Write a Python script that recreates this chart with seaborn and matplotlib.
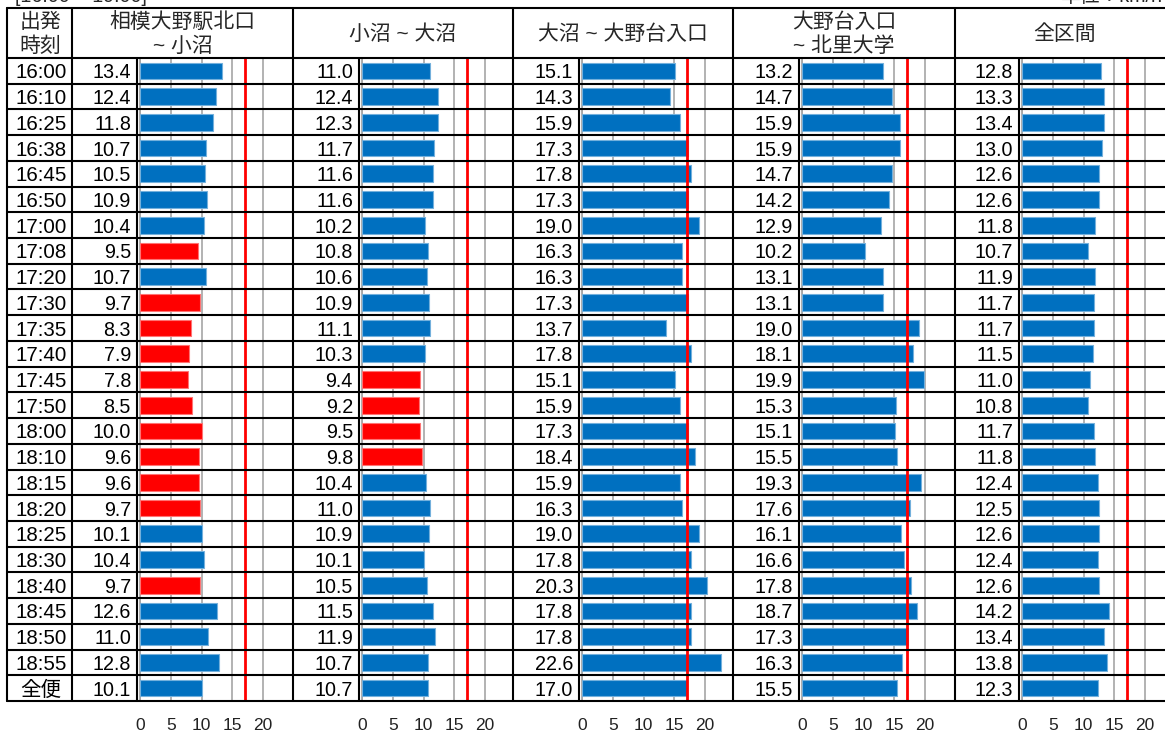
import matplotlib
matplotlib.use("Agg")
import matplotlib.pyplot as plt
import matplotlib.transforms as mtransforms
import matplotlib.colors as mcolors
import numpy as np
import pandas as pd
import seaborn as sns

# ---- data -------------------------------------------------------------
departures = ["16:00", "16:10", "16:25", "16:38", "16:45", "16:50", "17:00",
              "17:08", "17:20", "17:30", "17:35", "17:40", "17:45", "17:50",
              "18:00", "18:10", "18:15", "18:20", "18:25", "18:30", "18:40",
              "18:45", "18:50", "18:55", "全便"]

sagamiono_konuma = [13.4, 12.4, 11.8, 10.7, 10.5, 10.9, 10.4, 9.5, 10.7, 9.7,
                    8.3, 7.9, 7.8, 8.5, 10.0, 9.6, 9.6, 9.7, 10.1, 10.4, 9.7,
                    12.6, 11.0, 12.8, 10.1]
konuma_onuma = [11.0, 12.4, 12.3, 11.7, 11.6, 11.6, 10.2, 10.8, 10.6, 10.9,
                11.1, 10.3, 9.4, 9.2, 9.5, 9.8, 10.4, 11.0, 10.9, 10.1, 10.5,
                11.5, 11.9, 10.7, 10.7]
onuma_onodai = [15.1, 14.3, 15.9, 17.3, 17.8, 17.3, 19.0, 16.3, 16.3, 17.3,
                13.7, 17.8, 15.1, 15.9, 17.3, 18.4, 15.9, 16.3, 19.0, 17.8,
                20.3, 17.8, 17.8, 22.6, 17.0]
onodai_kitasato = [13.2, 14.7, 15.9, 15.9, 14.7, 14.2, 12.9, 10.2, 13.1, 13.1,
                   19.0, 18.1, 19.9, 15.3, 15.1, 15.5, 19.3, 17.6, 16.1, 16.6,
                   17.8, 18.7, 17.3, 16.3, 15.5]
whole_route = [12.8, 13.3, 13.4, 13.0, 12.6, 12.6, 11.8, 10.7, 11.9, 11.7,
               11.7, 11.5, 11.0, 10.8, 11.7, 11.8, 12.4, 12.5, 12.6, 12.4,
               12.6, 14.2, 13.4, 13.8, 12.3]

section_titles = [["相模大野駅北口", "~ 小沼"], ["小沼 ~ 大沼"], ["大沼 ~ 大野台入口"],
                  ["大野台入口", "~ 北里大学"], ["全区間"]]
section_values = [sagamiono_konuma, konuma_onuma, onuma_onodai,
                  onodai_kitasato, whole_route]
speed_ticks = [0, 5, 10, 15, 20]
reference_speed = 17.0
slow_limit = 10.0

# ---- style ------------------------------------------------------------
sns.set_theme(style="white")
plt.rcParams["font.family"] = ["Liberation Sans", "Noto Sans CJK JP"]

BLUE = "#0070C0"
RED = "#FF0000"
GRID = "#A6A6A6"

W, H = 1165, 733
fig = plt.figure(figsize=(W / 100, H / 100), dpi=100)

# table geometry (pixels)
tbl_left, tbl_top, head_bottom, tbl_bottom = 7, 8, 58, 701
time_right = 72
col_left = [72, 293, 513, 733, 955]
zero_px = [140, 362, 582, 802, 1022]
col_right = [293, 513, 733, 955, 1175]
px_per_unit = 6.15
n_rows = len(departures)

num_size = 14.2
time_size = 14.8
head_size = 15

# overlay for the table frame and headings
frame = fig.add_axes([0, 0, 1, 1], zorder=5)
frame.set_xlim(0, W)
frame.set_ylim(H, 0)
frame.axis("off")

for k, vals in enumerate(section_values):
    x0 = zero_px[k]
    ax = fig.add_axes([x0 / W, 1 - tbl_bottom / H,
                       (col_right[k] - x0) / W, (tbl_bottom - head_bottom) / H],
                      zorder=2)
    df = pd.DataFrame({
        "row": departures,
        "speed": vals,
        "band": ["slow" if v <= slow_limit else "normal" for v in vals],
    })
    sns.barplot(data=df, y="row", x="speed", hue="band", order=departures,
                hue_order=["normal", "slow"],
                palette={"normal": BLUE, "slow": RED},
                orient="h", width=0.65, dodge=False, legend=False,
                saturation=1, ax=ax)
    for p in ax.patches:
        fc = np.array(mcolors.to_rgb(p.get_facecolor()))
        p.set_edgecolor(tuple(fc + (1 - fc) * 0.45))
        p.set_linewidth(0.8)

    ax.set_xlim(0, (col_right[k] - x0) / px_per_unit)
    ax.set_ylim(n_rows - 0.5, -0.5)
    ax.set_xticks(speed_ticks)
    ax.set_yticks([])
    ax.grid(axis="x", color=GRID, lw=1.2)
    ax.grid(axis="y", visible=False)
    ax.set_axisbelow(True)
    for s in ax.spines.values():
        s.set_visible(False)
    ax.axvline(0, color=GRID, lw=1.3, clip_on=False, zorder=0.5)
    ax.axvline(reference_speed, color=RED, lw=2.0, zorder=3)
    ax.tick_params(axis="x", length=0, pad=12, labelsize=12.5, colors="#222222")
    ax.set_xlabel("")
    ax.set_ylabel("")
    ax.patch.set_alpha(0)

    # speed values in the column to the left of the bars
    val_tr = mtransforms.offset_copy(ax.get_yaxis_transform(), fig=fig,
                                     x=-9, y=-2, units="dots")
    for i, v in enumerate(vals):
        ax.text(0, i, f"{v:.1f}", transform=val_tr, ha="right", va="center",
                fontsize=num_size, color="black", clip_on=False)

    if k == 0:
        time_tr = mtransforms.offset_copy(ax.get_yaxis_transform(), fig=fig,
                                          x=41 - x0, y=-2, units="dots")
        for i, t in enumerate(departures):
            ax.text(0, i, t, transform=time_tr, ha="center", va="center",
                    fontsize=time_size, color="black", clip_on=False)

    # headings
    cx = (col_left[k] + col_right[k]) / 2
    lines = section_titles[k]
    if len(lines) == 1:
        frame.text(cx, 34, lines[0], ha="center", va="center", fontsize=head_size)
    else:
        frame.text(cx, 22, lines[0], ha="center", va="center", fontsize=head_size)
        frame.text(cx, 46, lines[1], ha="center", va="center", fontsize=head_size)

frame.text(40, 22, "出発", ha="center", va="center", fontsize=head_size)
frame.text(40, 46, "時刻", ha="center", va="center", fontsize=head_size)

# table rules
lw = 1.5
row_h = (tbl_bottom - head_bottom) / n_rows
frame.plot([tbl_left, W + 20], [tbl_top, tbl_top], color="black", lw=lw)
for i in range(n_rows + 1):
    y = head_bottom + i * row_h
    frame.plot([tbl_left, W + 20], [y, y], color="black", lw=lw)
for x in [tbl_left, time_right] + col_left[1:]:
    frame.plot([x, x], [tbl_top, tbl_bottom], color="black", lw=lw)
for x in zero_px:
    frame.plot([x - 3, x - 3], [head_bottom, tbl_bottom], color="black", lw=lw)

# captions above the table
frame.text(15, 6, "[16:00 ~ 19:00]", ha="left", va="bottom", fontsize=num_size)
frame.text(1163, 6, "単位：km/h", ha="right", va="bottom", fontsize=num_size)

fig.savefig("out.png", dpi=100)
